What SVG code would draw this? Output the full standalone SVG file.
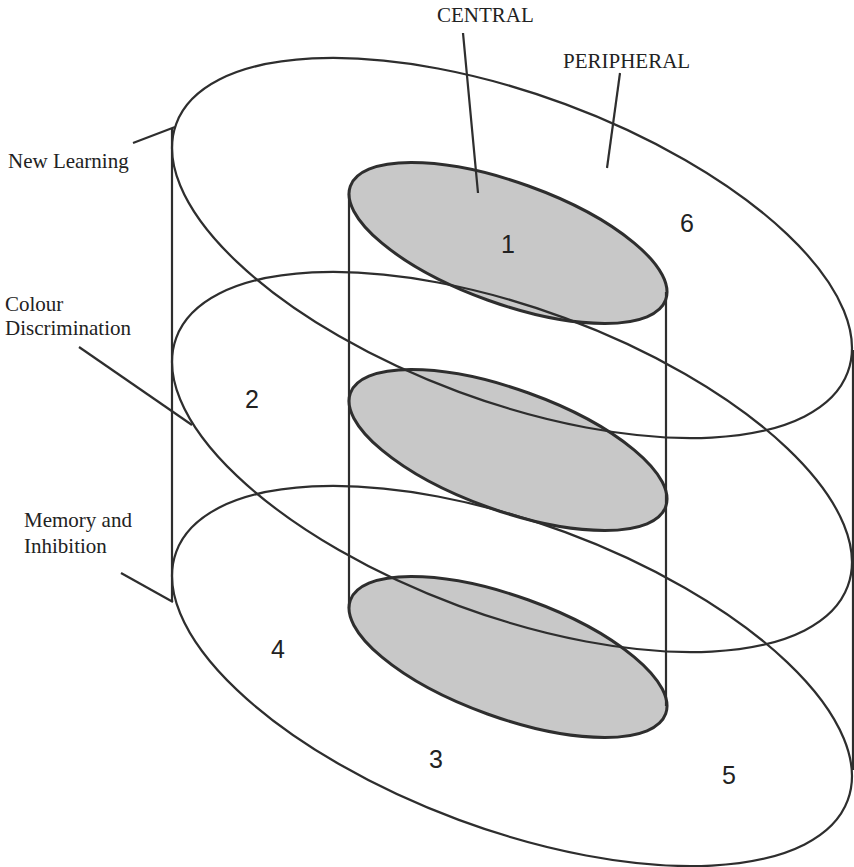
<svg xmlns="http://www.w3.org/2000/svg" width="854" height="867" viewBox="0 0 854 867">
  <style>
    .core { fill: #c8c8c8; stroke: #2e2e2e; stroke-width: 3; }
    .ring { fill: none; stroke: #2e2e2e; stroke-width: 2.2; }
    .edge { fill: none; stroke: #2e2e2e; stroke-width: 2.2; }
    .lead { fill: none; stroke: #2e2e2e; stroke-width: 2.2; }
    .lbl { font-family: "Liberation Serif", "Times New Roman", serif; font-size: 21px; fill: #222; }
    .num { font-family: "Liberation Sans", Arial, sans-serif; font-size: 25px; fill: #222; text-anchor: middle; }
  </style>
  <rect width="854" height="867" fill="#fff"/>

  <!-- central core discs -->
  <g id="core-1"><ellipse class="core" cx="508" cy="243" rx="167.6" ry="60.6" transform="rotate(19.8 508 243)"/></g>
  <g id="core-2"><ellipse class="core" cx="508" cy="450" rx="167.6" ry="60.6" transform="rotate(19.8 508 450)"/></g>
  <g id="core-3"><ellipse class="core" cx="508" cy="657" rx="167.6" ry="60.6" transform="rotate(19.8 508 657)"/></g>

  <!-- cylinder side edges -->
  <g id="edges">
    <path class="edge" d="M172 128 V601"/>
    <path class="edge" d="M349 194 V608"/>
    <path class="edge" d="M666 292 V706"/>
    <path class="edge" d="M853 350 V770"/>
  </g>

  <!-- peripheral rings -->
  <g id="ring-top"><ellipse class="ring" cx="512" cy="248" rx="358" ry="153.4" transform="rotate(20.3 512 248)"/></g>
  <g id="ring-mid"><ellipse class="ring" cx="512" cy="462" rx="358" ry="153.4" transform="rotate(20.3 512 462)"/></g>
  <g id="ring-bot"><ellipse class="ring" cx="512" cy="676" rx="358" ry="153.4" transform="rotate(20.3 512 676)"/></g>

  <!-- label leaders -->
  <g id="connectors">
    <path class="lead" d="M463 33 L478 193"/>
    <path class="lead" d="M620 73 L607 168"/>
    <path class="lead" d="M133 143 L175 127"/>
    <path class="lead" d="M79 347 L192 425"/>
    <path class="lead" d="M121 573 L173 602"/>
  </g>

  <g id="labels">
    <text class="lbl" x="437" y="22">CENTRAL</text>
    <text class="lbl" x="563" y="68">PERIPHERAL</text>
    <text class="lbl" x="8" y="168">New Learning</text>
    <text class="lbl" x="5" y="311">Colour</text>
    <text class="lbl" x="5" y="335">Discrimination</text>
    <text class="lbl" x="24" y="527">Memory and</text>
    <text class="lbl" x="24" y="553">Inhibition</text>
  </g>

  <g id="numbers">
    <text class="num" x="508" y="253">1</text>
    <text class="num" x="252" y="408">2</text>
    <text class="num" x="436" y="768">3</text>
    <text class="num" x="278" y="658">4</text>
    <text class="num" x="729" y="784">5</text>
    <text class="num" x="687" y="232">6</text>
  </g>
</svg>
